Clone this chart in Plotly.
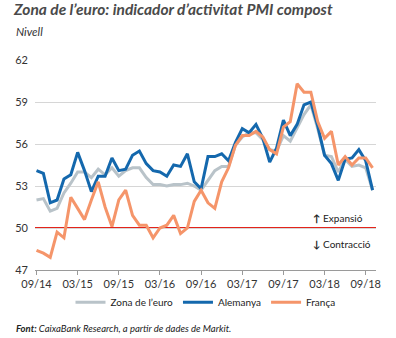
import plotly.graph_objects as go

months = ["09/14","10/14","11/14","12/14",
          "01/15","02/15","03/15","04/15","05/15","06/15","07/15","08/15","09/15","10/15","11/15","12/15",
          "01/16","02/16","03/16","04/16","05/16","06/16","07/16","08/16","09/16","10/16","11/16","12/16",
          "01/17","02/17","03/17","04/17","05/17","06/17","07/17","08/17","09/17","10/17","11/17","12/17",
          "01/18","02/18","03/18","04/18","05/18","06/18","07/18","08/18","09/18","10/18"]

eurozona = [52.0, 52.1, 51.2, 51.4,
            52.5, 53.2, 54.0, 54.0, 53.6, 54.2, 53.8, 54.3, 53.7, 54.1, 54.3, 54.3,
            53.6, 53.1, 53.1, 53.0, 53.1, 53.1, 53.2, 53.0, 52.7, 53.4, 54.1, 54.4,
            54.4, 55.9, 56.5, 56.8, 56.8, 56.3, 55.6, 55.5, 56.6, 56.2, 57.2, 58.1,
            58.8, 57.1, 55.2, 55.1, 54.0, 54.9, 54.4, 54.5, 54.3, 52.7]

alemanya = [54.1, 53.9, 51.8, 52.0,
            53.5, 53.8, 55.4, 54.1, 52.6, 53.7, 53.7, 55.0, 54.1, 54.2, 55.2, 55.5,
            54.6, 54.1, 54.0, 53.7, 54.5, 54.4, 55.3, 53.3, 52.8, 55.1, 55.1, 55.3,
            54.8, 56.1, 57.1, 56.8, 57.4, 56.4, 54.7, 55.7, 57.7, 56.6, 57.4, 58.8,
            59.0, 57.3, 55.2, 54.6, 53.4, 54.9, 55.0, 55.6, 54.8, 52.7]

franca = [48.4, 48.2, 47.9, 49.7,
          49.3, 52.2, 51.4, 50.6, 52.0, 53.3, 51.5, 50.1, 52.0, 52.7, 50.9, 50.2,
          50.2, 49.3, 50.0, 50.2, 50.9, 49.6, 50.0, 51.9, 52.7, 51.8, 51.4, 53.3,
          54.3, 55.9, 56.6, 56.6, 56.9, 56.5, 55.6, 55.3, 57.2, 57.6, 60.3, 59.7,
          59.7, 57.6, 56.4, 56.9, 54.5, 55.1, 54.5, 55.0, 55.0, 54.3]

tick_labels = ["09/14","03/15","09/15","03/16","09/16","03/17","09/17","03/18","09/18"]
y_ticks = [47, 50, 53, 56, 59, 62]

FONT = "Lato"

fig = go.Figure()
fig.add_trace(go.Scatter(x=months, y=eurozona, mode="lines", name="Zona de l’euro",
                         line=dict(color="#b9c3c9", width=3)))
fig.add_trace(go.Scatter(x=months, y=alemanya, mode="lines", name="Alemanya",
                         line=dict(color="#1468ad", width=3)))
fig.add_trace(go.Scatter(x=months, y=franca, mode="lines", name="França",
                         line=dict(color="#f5956a", width=3)))

fig.add_shape(type="line", xref="paper", yref="y", x0=0, x1=1, y0=50, y1=50,
              line=dict(color="#e3241b", width=2.2), layer="below")

fig.update_layout(
    width=396, height=338,
    margin=dict(l=35, r=20, t=60, b=68, autoexpand=False),
    paper_bgcolor="white", plot_bgcolor="white",
    font=dict(family=FONT, size=11, color="#333333"),
    showlegend=True,
    legend=dict(orientation="h", x=0.5, xanchor="center", y=-0.085, yanchor="top",
                font=dict(size=10, color="#222222"), itemwidth=30,
                tracegroupgap=0, bgcolor="rgba(0,0,0,0)"),
    xaxis=dict(type="category", categoryorder="array", categoryarray=months,
               range=[-0.22, 49.5], tickmode="array", tickvals=tick_labels,
               ticktext=tick_labels, showgrid=False, showline=True,
               linecolor="#9a9a9a", linewidth=1, ticks="outside", ticklen=4,
               tickcolor="#9a9a9a", tickfont=dict(size=11, color="#333333")),
    yaxis=dict(range=[47, 62], tickvals=y_ticks, showgrid=True, gridcolor="#d6d6d6",
               gridwidth=1, zeroline=False, showline=False, ticks="",
               tickfont=dict(size=11, color="#333333"), ticklabelstandoff=6),
)

fig.add_annotation(xref="paper", yref="paper", x=-0.07, y=1.0, yshift=62,
                   xanchor="left", yanchor="top", showarrow=False, align="left",
                   text="<b><i>Zona de l’euro: indicador d’activitat PMI compost</i></b>",
                   font=dict(family=FONT, size=15.5, color="#4a4a4a"))
fig.add_annotation(xref="paper", yref="paper", x=-0.063, y=1.0, yshift=37,
                   xanchor="left", yanchor="top", showarrow=False, align="left",
                   text="<i>Nivell</i>",
                   font=dict(family=FONT, size=11.5, color="#333333"))
fig.add_annotation(xref="x", yref="y", x=40, y=50.7, xanchor="left", yanchor="middle",
                   showarrow=False, text="<b>↑</b> Expansió",
                   font=dict(family=FONT, size=10, color="#222222"))
fig.add_annotation(xref="x", yref="y", x=40, y=48.85, xanchor="left", yanchor="middle",
                   showarrow=False, text="<b>↓</b> Contracció",
                   font=dict(family=FONT, size=10, color="#222222"))
fig.add_annotation(xref="paper", yref="paper", x=-0.063, y=0, yshift=-51,
                   xanchor="left", yanchor="top", showarrow=False, align="left",
                   text="<b><i>Font:</i></b><i> CaixaBank Research, a partir de dades de Markit.</i>",
                   font=dict(family=FONT, size=9.5, color="#222222"))

fig.write_html("out.html")
